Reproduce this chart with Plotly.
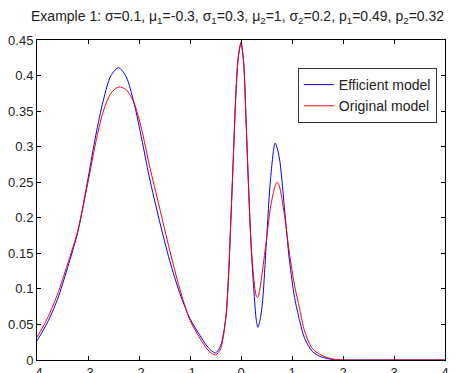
import plotly.graph_objects as go

x_eff = [-4.0, -3.8, -3.6, -3.4, -3.2, -3.0, -2.85, -2.7, -2.55, -2.4, -2.25, -2.1, -1.95, -1.8,
         -1.6, -1.4, -1.2, -1.0, -0.8, -0.65, -0.5, -0.4, -0.3, -0.25, -0.2, -0.15, -0.1, -0.05,
         0.0, 0.05, 0.1, 0.15, 0.2, 0.25, 0.3, 0.33, 0.37, 0.42, 0.5, 0.58, 0.67, 0.75, 0.85,
         0.95, 1.05, 1.15, 1.25, 1.4, 1.55, 1.7, 1.85, 2.0, 3.0, 4.0]
y_eff = [0.027, 0.052, 0.085, 0.130, 0.180, 0.255, 0.315, 0.365, 0.400, 0.411, 0.398, 0.362, 0.312, 0.258,
         0.196, 0.140, 0.094, 0.058, 0.034, 0.018, 0.010, 0.020, 0.058, 0.110, 0.195, 0.285, 0.375, 0.428,
         0.445, 0.420, 0.335, 0.240, 0.158, 0.100, 0.056, 0.046, 0.055, 0.080, 0.168, 0.255, 0.305, 0.285, 0.215,
         0.140, 0.088, 0.055, 0.030, 0.012, 0.005, 0.002, 0.0, 0.0, 0.0, 0.0]

x_orig = [-4.0, -3.8, -3.6, -3.4, -3.2, -3.0, -2.85, -2.7, -2.55, -2.4, -2.25, -2.1, -1.95, -1.8,
          -1.6, -1.4, -1.2, -1.0, -0.8, -0.65, -0.5, -0.4, -0.3, -0.25, -0.2, -0.15, -0.1, -0.05,
          0.0, 0.05, 0.1, 0.15, 0.2, 0.25, 0.3, 0.33, 0.37, 0.42, 0.5, 0.58, 0.67, 0.71, 0.75, 0.85,
          0.95, 1.05, 1.15, 1.25, 1.4, 1.55, 1.7, 1.85, 2.0, 3.0, 4.0]
y_orig = [0.032, 0.058, 0.092, 0.135, 0.182, 0.250, 0.305, 0.350, 0.375, 0.384, 0.380, 0.362, 0.325, 0.275,
          0.215, 0.155, 0.100, 0.056, 0.030, 0.014, 0.007, 0.016, 0.058, 0.110, 0.195, 0.285, 0.375, 0.428,
          0.447, 0.420, 0.335, 0.240, 0.160, 0.115, 0.090, 0.088, 0.100, 0.125, 0.170, 0.215, 0.245, 0.250, 0.245, 0.205,
          0.150, 0.105, 0.072, 0.040, 0.016, 0.008, 0.003, 0.001, 0.0, 0.0, 0.0]

x_ticks = [-4, -3, -2, -1, 0, 1, 2, 3, 4]
x_labels = ["-4", "-3", "-2", "-1", "0", "1", "2", "3", "4"]
y_ticks = [0, 0.05, 0.1, 0.15, 0.2, 0.25, 0.3, 0.35, 0.4, 0.45]
y_labels = ["0", "0.05", "0.1", "0.15", "0.2", "0.25", "0.3", "0.35", "0.4", "0.45"]

title = ("Example 1: σ=0.1, μ<sub>1</sub>=-0.3, σ<sub>1</sub>=0.3, μ<sub>2</sub>=1, "
         "σ<sub>2</sub>=0.2, p<sub>1</sub>=0.49, p<sub>2</sub>=0.32")

FONT = "Liberation Sans, Arial, sans-serif"

fig = go.Figure()
fig.add_trace(go.Scatter(x=x_eff, y=y_eff, mode="lines", name="Efficient model",
                         line=dict(color="#0000ff", width=1, shape="spline", smoothing=0.8)))
fig.add_trace(go.Scatter(x=x_orig, y=y_orig, mode="lines", name="Original model",
                         line=dict(color="#ff0000", width=1, shape="spline", smoothing=0.8)))

axis_common = dict(showgrid=False, zeroline=False, showline=True, linecolor="black", linewidth=1,
                   mirror="ticks", ticks="inside", ticklen=4, tickcolor="black", automargin=False,
                   tickfont=dict(family=FONT, size=13, color="#222222"))

fig.update_layout(
    width=451, height=365,
    margin=dict(l=29, r=14, t=32, b=13),
    paper_bgcolor="white", plot_bgcolor="white",
    title=dict(text=title, x=0.509, xanchor="center", y=0.99, yanchor="top",
               font=dict(family=FONT, size=14, color="#222222")),
    xaxis=dict(range=[-4, 4], tickvals=x_ticks, ticktext=x_labels, **axis_common),
    yaxis=dict(range=[0, 0.45], tickvals=y_ticks, ticktext=y_labels, **axis_common),
    legend=dict(x=0.98, y=0.9125, xanchor="right", yanchor="top", bgcolor="white",
                bordercolor="#333333", borderwidth=1, tracegroupgap=0,
                font=dict(family=FONT, size=14, color="#222222")),
    showlegend=True,
)

fig.write_html("out.html")
